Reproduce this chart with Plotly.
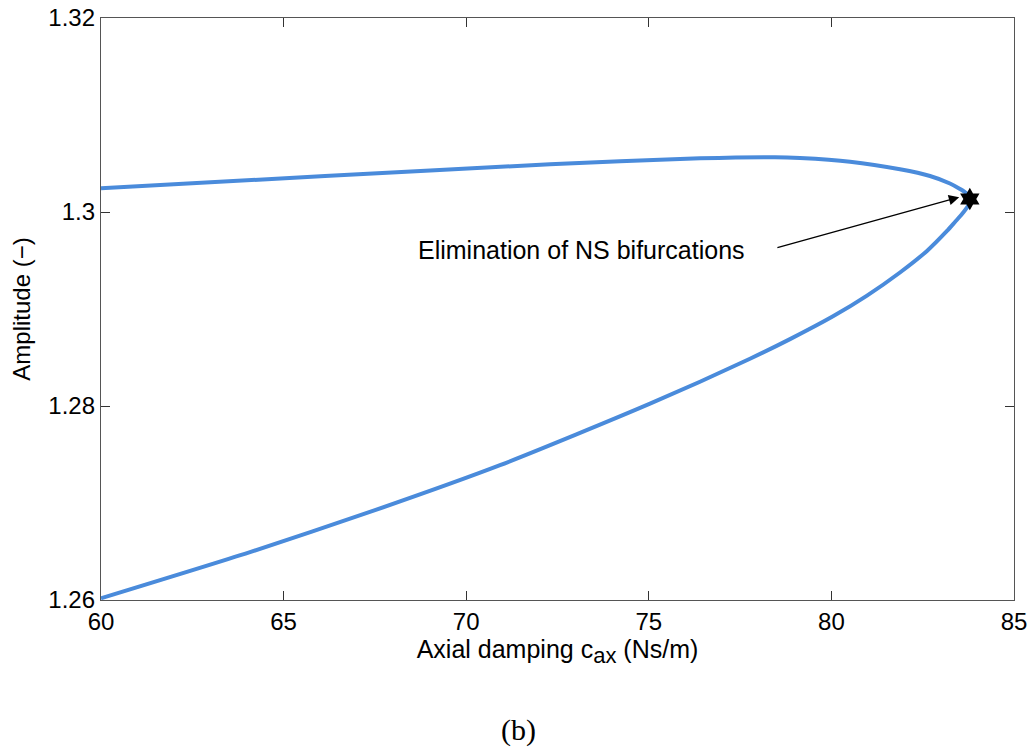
import plotly.graph_objects as go

# Continuation branch: upper branch from left to the fold, then lower branch back to the left
cax = [60.0, 66.134, 72.295, 76.402, 78.456, 79.140, 80.510, 81.878, 82.700, 83.247, 83.521,
       83.686, 83.822,
       83.740, 83.576, 83.384, 83.165, 82.617, 81.878, 80.975, 80.044, 78.867, 77.771, 75.033,
       70.926, 67.503, 64.080, 60.0]
amplitude = [1.302443, 1.303711, 1.304918, 1.305536, 1.305649, 1.305567, 1.305186, 1.304402,
             1.303711, 1.302938, 1.302371, 1.301959, 1.301340,
             1.300620, 1.299790, 1.298970, 1.298052, 1.295990, 1.293763, 1.291381, 1.289247,
             1.286897, 1.284876, 1.280237, 1.273897, 1.269258, 1.264938, 1.260180]

# Point where the NS bifurcations vanish
ns_cax = [83.79]
ns_amp = [1.30134]

x_ticks = [60, 65, 70, 75, 80, 85]
y_ticks = [1.26, 1.28, 1.30, 1.32]
y_tick_text = ["1.26", "1.28", "1.3", "1.32"]

fig = go.Figure()
fig.add_trace(go.Scatter(x=cax, y=amplitude, mode="lines",
                         line=dict(color="#4a8bdb", width=4, shape="spline", smoothing=0.7),
                         showlegend=False))
fig.add_trace(go.Scatter(x=ns_cax, y=ns_amp, mode="markers",
                         marker=dict(symbol="hexagram", size=17, color="black"),
                         showlegend=False))

font = "Liberation Sans, Arial, Helvetica, sans-serif"
axis_common = dict(showline=True, linecolor="#555555", linewidth=1.3, mirror="ticks",
                   ticks="inside", ticklen=9, tickcolor="#333333", showgrid=False,
                   zeroline=False, automargin=False,
                   tickfont=dict(family=font, size=24, color="black"))

fig.update_layout(
    width=1033, height=747,
    margin=dict(l=101, r=19, t=18, b=147),
    plot_bgcolor="white", paper_bgcolor="white",
    xaxis=dict(range=[60, 85], tickvals=x_ticks,
               title=dict(text="Axial damping c<sub><span style='font-size:22px'>ax</span></sub> (Ns/m)",
                          font=dict(family=font, size=25, color="black"), standoff=5),
               **axis_common),
    yaxis=dict(range=[1.26, 1.32], tickvals=y_ticks, ticktext=y_tick_text,
               title=dict(text="Amplitude (\u2212)",
                          font=dict(family=font, size=24, color="black"), standoff=10),
               **axis_common),
)

fig.add_annotation(x=73.17, y=1.29608, xref="x", yref="y", text="Elimination of NS bifurcations",
                   showarrow=False, font=dict(family=font, size=25, color="black"))
fig.add_annotation(x=83.5, y=1.30152, xref="x", yref="y", ax=78.48, ay=1.29629,
                   axref="x", ayref="y", text="", showarrow=True,
                   arrowhead=2, arrowsize=1.6, arrowwidth=1.3, arrowcolor="black")
fig.add_annotation(x=0.457, y=-0.2234, xref="paper", yref="paper", text="(b)",
                   xanchor="center", yanchor="middle", showarrow=False,
                   font=dict(family="Liberation Serif, Times New Roman, serif", size=30, color="black"))

fig.write_html("out.html")
